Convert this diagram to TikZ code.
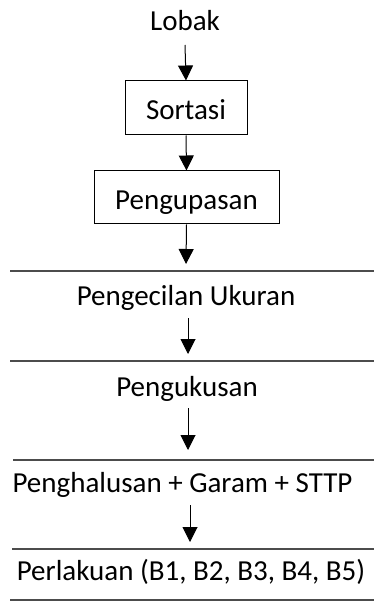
\documentclass[tikz,border=0pt]{standalone}
\usepackage{fontspec}
\setmainfont{Carlito}
\usetikzlibrary{arrows.meta}
\begin{document}
\begin{tikzpicture}[x=1pt,y=-1pt,
  lbl/.style={anchor=base,inner sep=0pt,font=\fontsize{29}{35}\selectfont},
  boxnode/.style={draw=black,line width=1pt,inner sep=0pt,font=\fontsize{29}{35}\selectfont},
  arr/.style={line width=1pt,-{Triangle[length=15pt,width=15pt]}},
  hline/.style={draw=black!70,line width=1.5pt}]
\useasboundingbox (0,0) rectangle (374,601);
% top
\node[lbl] (lobak) at (185,31) {Lobak};
\node[boxnode,minimum width=122pt,minimum height=54pt,text height=24pt,text depth=0pt] (sortasi) at (186,108) {Sortasi};
\node[boxnode,minimum width=185pt,minimum height=53pt,text height=25pt,text depth=0pt] (kupas) at (186.5,197.5) {Pengupasan};
\draw[arr] ([yshift=-14pt]lobak.base) -- (sortasi.north);
\draw[arr] (sortasi.south) -- (kupas.north);
% separators
\coordinate (l1a) at (10,271); \coordinate (l1b) at (374,271);
\coordinate (l2a) at (10,361); \coordinate (l2b) at (374,361);
\coordinate (l3a) at (13,460); \coordinate (l3b) at (374,460);
\coordinate (l4a) at (12,549); \coordinate (l4b) at (374,549);
\coordinate (l5a) at (10,600); \coordinate (l5b) at (374,600);
\foreach \i in {1,...,5} {\draw[hline] (l\i a) -- (l\i b);}
% arrow end points
\coordinate (e3) at (186,264);
\coordinate (e4) at (188,354);
\coordinate (e5) at (188,450);
\coordinate (e6) at (190,542);
\draw[arr] (kupas.south) -- (e3);
% texts
\node[lbl] (kecil) at (186,305) {Pengecilan Ukuran};
\node[lbl] (kukus) at (187,396) {Pengukusan};
\node[lbl] (halus) at (182.5,492) {Penghalusan + Garam + STTP};
\node[lbl] (laku) at (191,580) {Perlakuan (B1, B2, B3, B4, B5)};
\draw[arr] ([xshift=2pt,yshift=-13pt]kecil.base) -- (e4);
\draw[arr] ([xshift=1pt,yshift=-12pt]kukus.base) -- (e5);
\draw[arr] ([xshift=7.5pt,yshift=-13pt]halus.base) -- (e6);
\end{tikzpicture}
\end{document}
